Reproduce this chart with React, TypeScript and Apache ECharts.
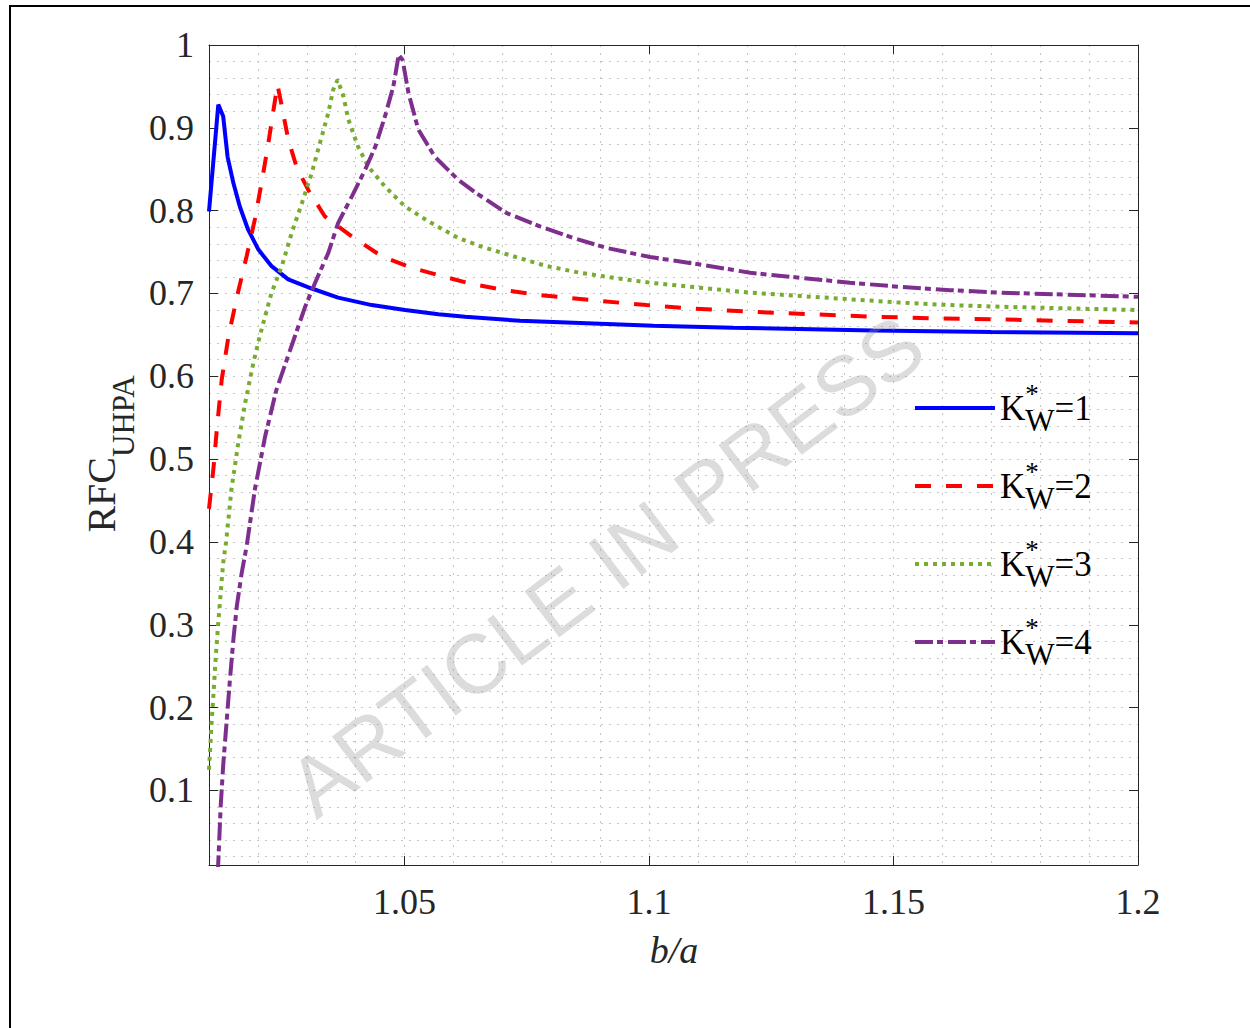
import React, { useEffect, useRef } from 'react';
import * as echarts from 'echarts';

// ---------- data ----------
const X_TICKS = [1.05, 1.1, 1.15, 1.2];
const X_GRID = [1.02, 1.03, 1.04, 1.05, 1.06, 1.07, 1.08, 1.09, 1.1, 1.11, 1.12, 1.13, 1.14, 1.15, 1.16, 1.17, 1.18, 1.19];
const Y_TICKS = [0.1, 0.2, 0.3, 0.4, 0.5, 0.6, 0.7, 0.8, 0.9, 1.0];
const Y_GRID = [0.02, 0.04, 0.06, 0.08, 0.1, 0.12, 0.14, 0.16, 0.18, 0.2, 0.22, 0.24, 0.26, 0.28, 0.3, 0.32, 0.34, 0.36, 0.38, 0.4, 0.42, 0.44, 0.46, 0.48, 0.5, 0.52, 0.54, 0.56, 0.58, 0.6, 0.62, 0.64, 0.66, 0.68, 0.7, 0.72, 0.74, 0.76, 0.78, 0.8, 0.82, 0.84, 0.86, 0.88, 0.9, 0.92, 0.94, 0.96, 0.98];

const SERIES_NAMES = ['K*W=1', 'K*W=2', 'K*W=3', 'K*W=4'];

const K1_X = [1.0100, 1.0119, 1.0129, 1.0138, 1.0150, 1.0163, 1.0180, 1.0201, 1.0228, 1.0262, 1.0310, 1.0364, 1.0433, 1.0501, 1.0569, 1.0624, 1.0736, 1.0900, 1.1009, 1.1172, 1.1458, 1.1700, 1.2000];
const K1_Y = [0.799, 0.928, 0.914, 0.865, 0.833, 0.805, 0.777, 0.753, 0.733, 0.717, 0.706, 0.695, 0.686, 0.680, 0.675, 0.672, 0.667, 0.6635, 0.661, 0.6587, 0.6554, 0.6535, 0.652];

const K2_X = [1.0100, 1.0109, 1.0116, 1.0126, 1.0140, 1.0160, 1.0177, 1.0194, 1.0208, 1.0221, 1.0232, 1.0240, 1.0249, 1.0262, 1.0279, 1.0303, 1.0337, 1.0392, 1.0453, 1.0515, 1.0583, 1.0634, 1.0695, 1.0763, 1.0831, 1.0900, 1.0995, 1.1084, 1.1207, 1.1329, 1.1458, 1.1581, 1.1703, 1.1834, 1.2000];
const K2_Y = [0.440, 0.488, 0.536, 0.596, 0.649, 0.703, 0.745, 0.790, 0.835, 0.880, 0.922, 0.952, 0.926, 0.886, 0.853, 0.825, 0.793, 0.769, 0.745, 0.731, 0.720, 0.712, 0.705, 0.699, 0.695, 0.691, 0.686, 0.682, 0.678, 0.675, 0.672, 0.670, 0.669, 0.667, 0.665];

const K3_X = [1.0100, 1.0105, 1.0109, 1.0114, 1.0119, 1.0124, 1.0129, 1.0135, 1.0146, 1.0160, 1.0174, 1.0191, 1.0204, 1.0228, 1.0249, 1.0269, 1.0290, 1.0310, 1.0327, 1.0344, 1.0354, 1.0363, 1.0375, 1.0385, 1.0405, 1.0426, 1.0460, 1.0501, 1.0549, 1.0610, 1.0655, 1.0722, 1.0791, 1.0859, 1.0927, 1.1002, 1.1104, 1.1207, 1.1309, 1.1411, 1.1513, 1.1616, 1.1718, 1.2000];
const K3_Y = [0.125, 0.179, 0.215, 0.263, 0.303, 0.339, 0.375, 0.400, 0.464, 0.520, 0.568, 0.617, 0.649, 0.701, 0.733, 0.773, 0.809, 0.845, 0.882, 0.918, 0.946, 0.958, 0.938, 0.910, 0.877, 0.853, 0.829, 0.805, 0.787, 0.767, 0.757, 0.745, 0.733, 0.725, 0.719, 0.713, 0.707, 0.701, 0.697, 0.693, 0.689, 0.686, 0.684, 0.680];

const K4_X = [1.0118, 1.0124, 1.0129, 1.0136, 1.0143, 1.0150, 1.0157, 1.0167, 1.0177, 1.0194, 1.0215, 1.0238, 1.0272, 1.0296, 1.0317, 1.0344, 1.0364, 1.0392, 1.0419, 1.0440, 1.0460, 1.0477, 1.0488, 1.0496, 1.0508, 1.0528, 1.0562, 1.0610, 1.0647, 1.0709, 1.0777, 1.0845, 1.0913, 1.1002, 1.1104, 1.1207, 1.1309, 1.1411, 1.1513, 1.1616, 1.1718, 1.2000];
const K4_Y = [0.000, 0.082, 0.130, 0.183, 0.235, 0.283, 0.323, 0.363, 0.395, 0.464, 0.528, 0.584, 0.642, 0.683, 0.713, 0.749, 0.785, 0.817, 0.849, 0.877, 0.914, 0.950, 0.988, 0.982, 0.942, 0.898, 0.865, 0.837, 0.821, 0.797, 0.781, 0.767, 0.755, 0.744, 0.735, 0.725, 0.719, 0.713, 0.708, 0.704, 0.701, 0.696];

// ---------- styles ----------
const FONT = '"Liberation Serif", "Times New Roman", serif';
const AXIS_COLOR = '#262626';
const GRID_COLOR = '#c6c6c6';
const X_MIN = 1.01;
const X_MAX = 1.2;
const Y_MIN = 0.01;
const Y_MAX = 1;
const LINE_W = 4;

const zip = (xs: number[], ys: number[]) => xs.map((x, i) => [x, ys[i]]);

const fmtX = (v: number) => String(Number(v.toFixed(2)));
const fmtY = (v: number) => String(Number(v.toFixed(1)));

function buildOption(): any {
  const xBase = { type: 'value', min: X_MIN, max: X_MAX, gridIndex: 0 };
  const yBase = { type: 'value', min: Y_MIN, max: Y_MAX, gridIndex: 0 };
  const lineAx = { show: true, onZero: false, lineStyle: { color: AXIS_COLOR, width: 1 } };
  const gridLine = { show: true, lineStyle: { type: [2, 6], color: GRID_COLOR, width: 1 } };

  const seriesDefs = [
    { name: SERIES_NAMES[0], data: zip(K1_X, K1_Y), color: '#0000ff', type: 'solid' as any },
    { name: SERIES_NAMES[1], data: zip(K2_X, K2_Y), color: '#ff0000', type: [16, 15] },
    { name: SERIES_NAMES[2], data: zip(K3_X, K3_Y), color: '#77ac30', type: [4, 5] },
    { name: SERIES_NAMES[3], data: zip(K4_X, K4_Y), color: '#7e2f8e', type: [18, 4, 6, 5] },
  ];

  return {
    animation: false,
    backgroundColor: '#ffffff',
    grid: { left: 209, right: 112, top: 45, bottom: 163, containLabel: false, outerBoundsMode: 'none' },
    xAxis: [
      {
        ...xBase,
        position: 'bottom',
        axisLine: lineAx,
        axisTick: { show: true, inside: true, length: 9, customValues: X_TICKS, lineStyle: { color: AXIS_COLOR } },
        axisLabel: {
          show: true, customValues: X_TICKS, formatter: fmtX, fontFamily: FONT, fontSize: 36,
          color: AXIS_COLOR, margin: 19, showMaxLabel: true, showMinLabel: true, hideOverlap: false,
        },
        splitLine: { show: false },
      },
      {
        ...xBase,
        position: 'top',
        axisLine: lineAx,
        axisTick: { show: true, inside: true, length: 9, customValues: X_TICKS, lineStyle: { color: AXIS_COLOR } },
        axisLabel: { show: false },
        splitLine: { show: false },
      },
      {
        ...xBase,
        position: 'bottom',
        axisLine: { show: false },
        axisTick: { show: false, customValues: X_GRID },
        axisLabel: { show: false },
        splitLine: gridLine,
      },
    ],
    yAxis: [
      {
        ...yBase,
        position: 'left',
        axisLine: lineAx,
        axisTick: { show: true, inside: true, length: 9, customValues: Y_TICKS, lineStyle: { color: AXIS_COLOR } },
        axisLabel: {
          show: true, customValues: Y_TICKS, formatter: fmtY, fontFamily: FONT, fontSize: 36,
          color: AXIS_COLOR, margin: 15, showMaxLabel: true, showMinLabel: true, hideOverlap: false,
        },
        splitLine: { show: false },
      },
      {
        ...yBase,
        position: 'right',
        axisLine: lineAx,
        axisTick: { show: true, inside: true, length: 9, customValues: Y_TICKS, lineStyle: { color: AXIS_COLOR } },
        axisLabel: { show: false },
        splitLine: { show: false },
      },
      {
        ...yBase,
        position: 'left',
        axisLine: { show: false },
        axisTick: { show: false, customValues: Y_GRID },
        axisLabel: { show: false },
        splitLine: gridLine,
      },
    ],
    legend: {
      orient: 'vertical',
      left: 913,
      top: 380,
      padding: 0,
      itemWidth: 80,
      itemHeight: 2,
      itemGap: 22,
      selectedMode: false,
      data: SERIES_NAMES,
      itemStyle: { opacity: 0 },
      lineStyle: { width: LINE_W },
      formatter: (name: string) => `{k|K}{s|*}{w|W}{e|=${name.slice(-1)}}`,
      textStyle: {
        color: '#000',
        fontFamily: FONT,
        rich: {
          k: { fontFamily: FONT, fontSize: 35, lineHeight: 56, color: '#000' },
          s: { fontFamily: FONT, fontSize: 27, lineHeight: 30, width: 0, verticalAlign: 'top', color: '#000' },
          w: { fontFamily: FONT, fontSize: 31, lineHeight: 30, verticalAlign: 'bottom', color: '#000' },
          e: { fontFamily: FONT, fontSize: 35, lineHeight: 56, color: '#000' },
        },
      },
    },
    series: seriesDefs.map((s) => ({
      type: 'line',
      name: s.name,
      xAxisIndex: 0,
      yAxisIndex: 0,
      data: s.data,
      showSymbol: false,
      symbol: 'none',
      clip: true,
      color: s.color,
      lineStyle: { color: s.color, width: LINE_W, type: s.type },
      emphasis: { disabled: true },
    })),
    graphic: [
      {
        type: 'rect',
        z: 0,
        shape: { x: 10, y: 6, width: 1270, height: 1060 },
        style: { fill: 'none', stroke: '#000', lineWidth: 2 },
        silent: true,
      },
      {
        type: 'text',
        x: 101,
        y: 454,
        rotation: Math.PI / 2,
        style: {
          text: '{a|RFC}{b|UHPA}',
          align: 'center',
          verticalAlign: 'middle',
          fill: AXIS_COLOR,
          rich: {
            a: { fontFamily: FONT, fontSize: 40, lineHeight: 76, fill: AXIS_COLOR },
            b: { fontFamily: FONT, fontSize: 31, lineHeight: 30, verticalAlign: 'bottom', fill: AXIS_COLOR },
          },
        },
      },
      {
        type: 'text',
        x: 674,
        y: 950,
        style: {
          text: 'b/a',
          fontFamily: FONT,
          fontStyle: 'italic',
          fontSize: 38,
          align: 'center',
          verticalAlign: 'middle',
          fill: AXIS_COLOR,
        },
      },
      {
        type: 'text',
        x: 606,
        y: 566,
        z: 100,
        rotation: (37 * Math.PI) / 180,
        silent: true,
        style: {
          text: 'ARTICLE IN PRESS',
          fontFamily: '"Liberation Sans", Arial, sans-serif',
          fontSize: 84,
          align: 'center',
          verticalAlign: 'middle',
          fill: 'rgba(150,150,150,0.33)',
        },
      },
    ],
  };
}

export default function App() {
  const ref = useRef<HTMLDivElement>(null);
  useEffect(() => {
    document.body.style.margin = '0';
    const chart = echarts.init(ref.current as HTMLDivElement, null, { renderer: 'svg' });
    chart.setOption(buildOption());
    return () => chart.dispose();
  }, []);
  return <div ref={ref} style={{ width: 1250, height: 1028 }} />;
}
